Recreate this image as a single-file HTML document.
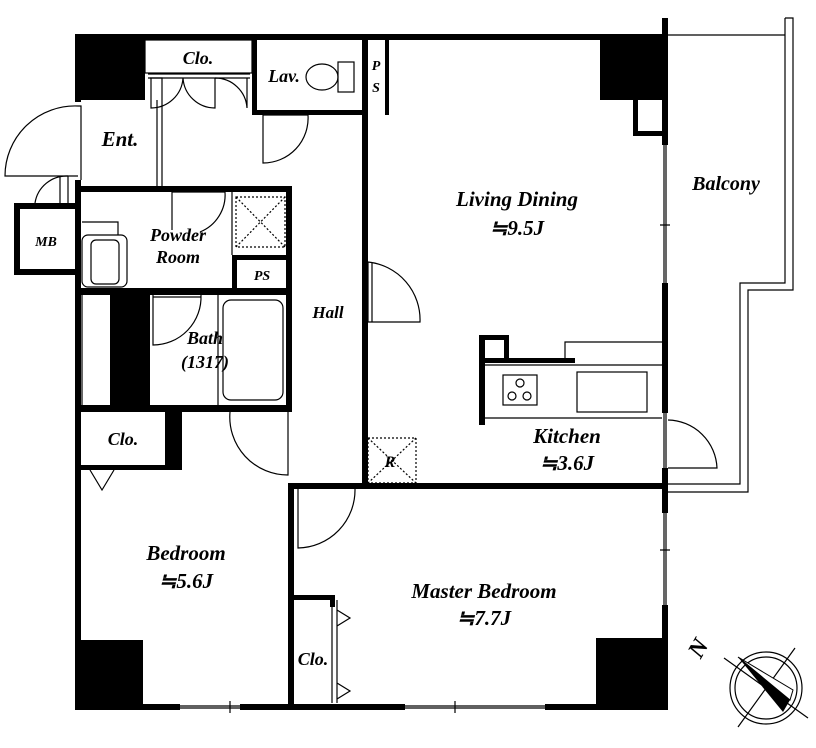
<!DOCTYPE html>
<html><head><meta charset="utf-8"><style>
html,body{margin:0;padding:0;background:#fff;}
svg{display:block;}
text{font-family:"Liberation Serif",serif;font-style:italic;font-weight:bold;fill:#000;}
</style></head><body>
<svg width="816" height="748" viewBox="0 0 816 748" xmlns="http://www.w3.org/2000/svg">
<g fill="#000">
<rect x="75" y="34" width="593" height="6"/>
<rect x="75" y="34" width="6" height="68"/>
<rect x="75" y="180" width="6" height="530"/>
<rect x="75" y="704" width="105" height="6"/>
<rect x="240" y="704" width="165" height="6"/>
<rect x="545" y="704" width="123" height="6"/>
<rect x="662" y="18" width="6" height="127"/>
<rect x="662" y="283" width="6" height="130"/>
<rect x="662" y="468" width="6" height="45"/>
<rect x="662" y="605" width="6" height="105"/>
<rect x="75" y="34" width="70" height="66"/>
<rect x="600" y="34" width="66" height="66"/>
<rect x="78" y="640" width="65" height="70"/>
<rect x="596" y="638" width="72" height="72"/>
<rect x="633" y="100" width="5" height="35"/>
<rect x="633" y="131" width="32" height="5"/>
<rect x="252" y="38" width="5" height="77"/>
<rect x="252" y="110" width="115" height="5"/>
<rect x="362" y="38" width="6" height="447"/>
<rect x="385" y="38" width="4" height="77"/>
<rect x="75" y="186" width="217" height="6"/>
<rect x="286" y="186" width="6" height="226"/>
<rect x="75" y="288" width="217" height="7"/>
<rect x="75" y="405" width="217" height="7"/>
<rect x="110" y="295" width="40" height="110"/>
<rect x="232" y="255" width="5" height="35"/>
<rect x="232" y="255" width="56" height="5"/>
<rect x="165" y="410" width="17" height="60"/>
<rect x="78" y="465" width="102" height="5"/>
<rect x="288" y="483" width="6" height="227"/>
<rect x="290" y="483" width="378" height="6"/>
<rect x="290" y="595" width="45" height="5"/>
<rect x="330" y="595" width="5" height="12"/>
<rect x="479" y="335" width="6" height="90"/>
<rect x="479" y="335" width="30" height="5"/>
<rect x="504" y="335" width="5" height="26"/>
<rect x="479" y="358" width="96" height="5"/>
<rect x="14" y="203" width="62" height="6"/>
<rect x="14" y="203" width="6" height="72"/>
<rect x="14" y="269" width="62" height="6"/>
</g>
<g fill="none" stroke="#000" stroke-width="1.2">
<path d="M668 35 H785 M785 18 H793 V290 H748 V492 H668 M785 18 V283 H740 V484 H668"/>
<path d="M664 145 V283 M666 145 V283 M664 413 V468 M666 413 V468 M664 513 V605 M666 513 V605"/>
<path d="M180 706 H240 M180 708 H240 M405 706 H545 M405 708 H545"/>
<path d="M660 225 H670 M660 550 H670 M230 701 V713 M455 701 V713"/>
<rect x="145" y="40" width="107" height="33"/>
<path d="M148 78 H250 M148 74 H250"/>
<path d="M183 78 A32 32 0 0 1 151 108 V78 M183 78 A32 32 0 0 0 215 108 V78 M215 78 A32 32 0 0 1 247 108 V78"/>
<path d="M150 78 H162 V108 M157 100 V186 M162 100 V186"/>
<path d="M78 106 H81 V180 M78 106 A70 70 0 0 0 5 176 H78"/>
<path d="M68 176 V203 M60 176 V203 M68 176 A32 32 0 0 0 35 203"/>
<ellipse cx="322" cy="77" rx="16" ry="13"/>
<rect x="338" y="62" width="16" height="30"/>
<path d="M263 115 H308 M263 115 V163 A45 45 0 0 0 308 115"/>
<path d="M172 192 V230 M172 192 H225 A40 40 0 0 1 200 232"/>
<rect x="82" y="235" width="45" height="52" rx="6"/>
<rect x="91" y="240" width="28" height="44" rx="5"/>
<path d="M82 222 H118 V235"/>
<path d="M232 192 V255"/>
<rect x="236" y="197" width="49" height="50" stroke-dasharray="2 2"/>
<path d="M236 197 L285 247 M285 197 L236 247" stroke-dasharray="2 2"/>
<path d="M153 295 V345 A48 48 0 0 0 201 295 M153 297 H201"/>
<path d="M218 295 V405"/>
<rect x="223" y="300" width="60" height="100" rx="8"/>
<path d="M82 295 V405"/>
<path d="M82 410 H165 M90 470 L102 490 L114 470"/>
<path d="M230 412 A58 58 0 0 0 288 475 V412"/>
<path d="M298 489 V548 A58 58 0 0 0 355 489"/>
<path d="M332 600 V703 M337 600 V703 M337 610 L350 618 L337 626 M337 683 L350 691 L337 699"/>
<path d="M368 262 V322 H420 A58 58 0 0 0 368 262 M372 262 V322"/>
<rect x="368" y="438" width="48" height="45" stroke-dasharray="2 2"/>
<path d="M368 438 L416 483 M416 438 L368 483" stroke-dasharray="2 2"/>
<path d="M485 365 H662 M485 418 H662 M565 358 V342 H662"/>
<rect x="503" y="375" width="34" height="30"/>
<circle cx="520" cy="383" r="4"/><circle cx="512" cy="396" r="4"/><circle cx="527" cy="396" r="4"/>
<rect x="577" y="372" width="70" height="40"/>
<path d="M668 420 A50 50 0 0 1 717 468 H668"/>
<circle cx="766" cy="688" r="36"/><circle cx="766" cy="688" r="31"/>
<path d="M724 658 L808 718 M795 648 L738 727"/>
</g>
<path d="M738 657 L790 700 L783 712 Z" fill="#000"/>
<path d="M738 657 L793 690 L790 700 Z" fill="#fff" stroke="#000"/>
<g text-anchor="middle">
<text x="198" y="64" font-size="18">Clo.</text>
<text x="284" y="82" font-size="18">Lav.</text>
<text x="376" y="70" font-size="14">P</text>
<text x="376" y="92" font-size="14">S</text>
<text x="120" y="146" font-size="21">Ent.</text>
<text x="46" y="246" font-size="14">MB</text>
<text x="178" y="241" font-size="18">Powder</text>
<text x="178" y="263" font-size="18">Room</text>
<text x="262" y="280" font-size="14">PS</text>
<text x="205" y="344" font-size="18">Bath</text>
<text x="205" y="368" font-size="18">(1317)</text>
<text x="328" y="318" font-size="17">Hall</text>
<text x="517" y="206" font-size="21">Living Dining</text>
<text x="517" y="235" font-size="21">≒9.5J</text>
<text x="726" y="190" font-size="20">Balcony</text>
<text x="567" y="443" font-size="21">Kitchen</text>
<text x="567" y="470" font-size="21">≒3.6J</text>
<text x="123" y="445" font-size="18">Clo.</text>
<text x="390" y="467" font-size="16">R</text>
<text x="186" y="560" font-size="21">Bedroom</text>
<text x="186" y="588" font-size="21">≒5.6J</text>
<text x="484" y="598" font-size="21">Master Bedroom</text>
<text x="484" y="625" font-size="21">≒7.7J</text>
<text x="313" y="665" font-size="18">Clo.</text>
<text x="705" y="652" font-size="24" transform="rotate(-60 705 652)">N</text>
</g>
</svg>
</body></html>
